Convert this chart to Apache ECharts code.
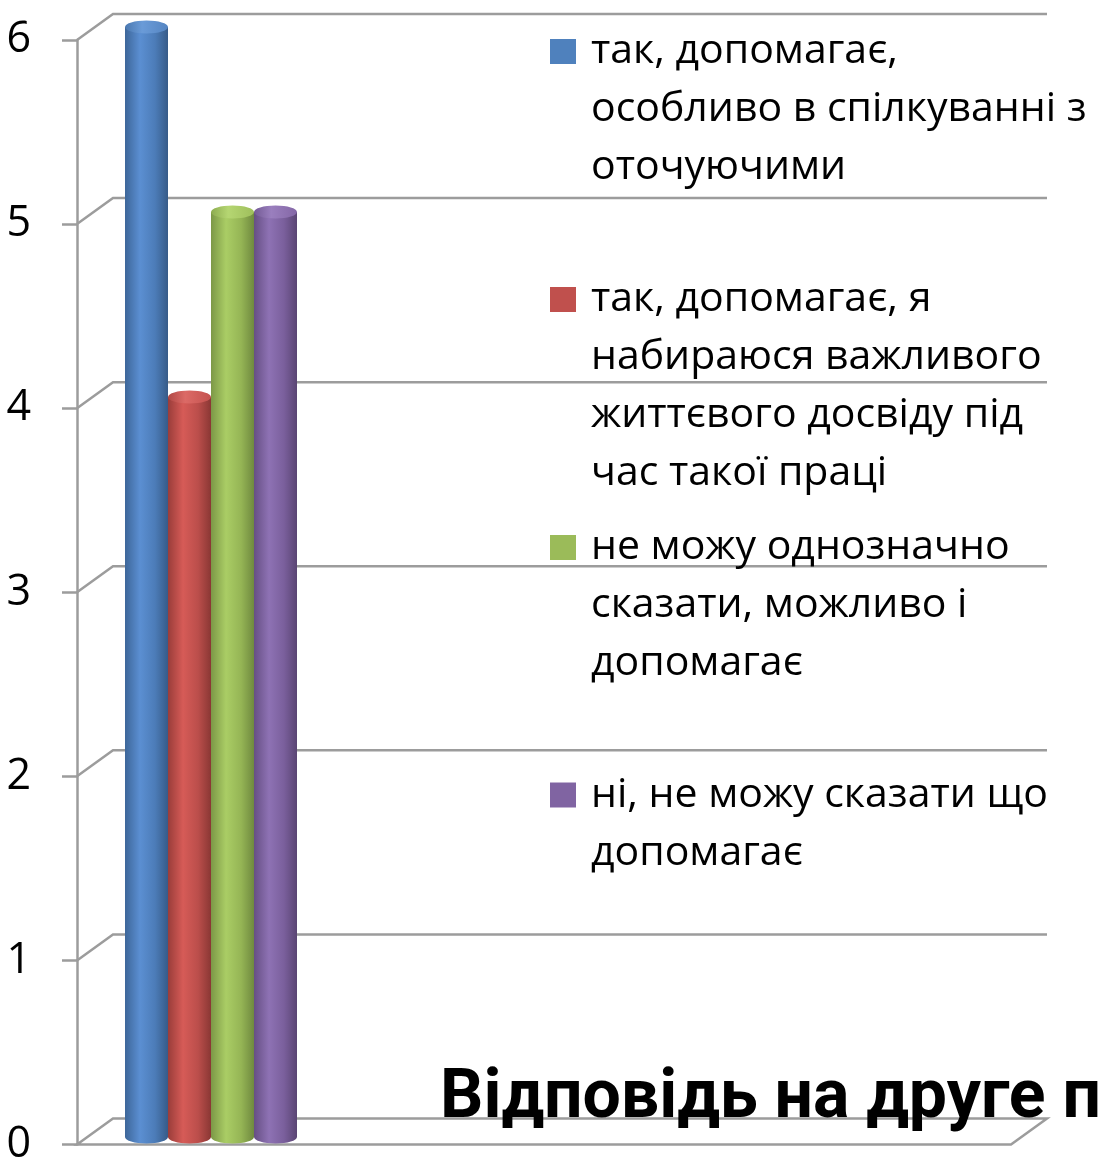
<!DOCTYPE html>
<html>
<head>
<meta charset="utf-8">
<script src="https://cdn.jsdelivr.net/npm/echarts@6/dist/echarts.min.js"></script>
<style>
  html, body { margin: 0; padding: 0; background: #fff; }
  #chart { width: 1098px; height: 1166px; }
</style>
</head>
<body>
<div id="chart"></div>
<script>
// ---- data ----
const categories = [''];
const seriesNames = [
  'так, допомагає, особливо в спілкуванні з оточуючими',
  'так, допомагає, я набираюся важливого життєвого досвіду під час такої праці',
  'не можу однозначно сказати, можливо і допомагає',
  'ні, не можу сказати що допомагає'
];
const legendLabels = [
  'так, допомагає,\nособливо в спілкуванні з\nоточуючими',
  'так, допомагає, я\nнабираюся важливого\nжиттєвого досвіду під\nчас такої праці',
  'не можу однозначно\nсказати, можливо і\nдопомагає',
  'ні, не можу сказати що\nдопомагає'
];
const seriesValues = [6, 4, 5, 5];
const yTicks = [0, 1, 2, 3, 4, 5, 6];
const titleText = 'Відповідь на друге питання';

// ---- styles ----
const FONT = 'Open Sans';
const baseColors = ['#4f81bd', '#c0504d', '#9bbb59', '#8064a2'];
const bodyStops = [
  ['#3d6699', '#5b8fd2', '#4c7cb8', '#375b88'],
  ['#9a3d3a', '#d65b57', '#bb4e4b', '#8a3734'],
  ['#7c9847', '#aacd65', '#95b555', '#6f893f'],
  ['#664f84', '#8e72b4', '#7a5f9c', '#5a4573']
];
const topStops = [
  ['#4a78b0', '#6a9bd8', '#5585c2'],
  ['#b04845', '#dc6a66', '#c4524f'],
  ['#8dac50', '#b5d672', '#9fbf5c'],
  ['#735a94', '#9a7fbe', '#8467a6']
];
const DX = 36, DY = -26;       // depth offset of back wall
const GRID_COLOR = '#9c9c9c';

function grad(stops) {
  const n = stops.length;
  return new echarts.graphic.LinearGradient(0, 0, 1, 0,
    stops.map((c, i) => ({ offset: n === 4 ? [0, 0.35, 0.7, 1][i] : [0, 0.4, 1][i], color: c })));
}

const chart = echarts.init(document.getElementById('chart'), null, { renderer: 'canvas' });

const gridSeries = {
  type: 'custom',
  xAxisIndex: 0, yAxisIndex: 0,
  silent: true,
  z: 1,
  data: yTicks.map(v => [0, v]),
  renderItem: function (params, api) {
    const cs = params.coordSys;
    const p = api.coord([api.value(0), api.value(1)]);
    const y = p[1];
    const x0 = cs.x, x1 = cs.x + cs.width;
    const style = { stroke: GRID_COLOR, lineWidth: 2.5, fill: null };
    if (api.value(1) === 0) {
      return {
        type: 'polygon',
        shape: { points: [[x0, y], [x0 + DX, y + DY], [x1 + DX, y + DY], [x1, y]] },
        style: style
      };
    }
    return {
      type: 'polyline',
      shape: { points: [[x0, y], [x0 + DX, y + DY], [x1 + DX, y + DY]] },
      style: style
    };
  }
};

const barSeries = seriesNames.map((name, idx) => ({
  type: 'custom',
  name: name,
  xAxisIndex: 1, yAxisIndex: 1,
  z: 5,
  itemStyle: { color: baseColors[idx] },
  data: [[0, seriesValues[idx]]],
  renderItem: function (params, api) {
    const cat = api.value(0);
    const v = api.value(1);
    const base = api.coord([cat, 0]);
    const top = api.coord([cat, v]);
    const band = api.size([1, 0])[0];
    const bw = band * 0.215;
    const cx = base[0] + (idx - 1.5) * bw;
    const ry = 6.5;
    return {
      type: 'group',
      children: [
        { type: 'ellipse', shape: { cx: cx, cy: base[1], rx: bw / 2, ry: ry },
          style: { fill: grad(bodyStops[idx]) } },
        { type: 'rect', shape: { x: cx - bw / 2, y: top[1], width: bw, height: base[1] - top[1] },
          style: { fill: grad(bodyStops[idx]) } },
        { type: 'ellipse', shape: { cx: cx, cy: top[1], rx: bw / 2, ry: ry },
          style: { fill: grad(topStops[idx]) } }
      ]
    };
  }
}));

const LH = 58;
const iconCenters = [51.5, 299.5, 547.5, 795];
const legends = seriesNames.map((name, i) => {
  const n = legendLabels[i].split('\n').length;
  // blank lines in front so that the first text line sits level with the icon
  const shifted = '\n'.repeat(n - 1) + legendLabels[i];
  return {
    show: true,
    orient: 'vertical',
    left: 550,
    top: iconCenters[i] - (2 * n - 1) * LH / 2,
    padding: 0,
    itemWidth: 26,
    itemHeight: 25,
    icon: 'rect',
    selectedMode: false,
    data: [name],
    formatter: function () { return shifted; },
    textStyle: {
      fontFamily: FONT, fontSize: 41, lineHeight: LH, color: '#000',
      padding: [0, 0, 0, 10]
    }
  };
});

const option = {
  backgroundColor: '#ffffff',
  animation: false,
  color: baseColors,
  title: {
    text: titleText,
    left: 440,
    top: 1066,
    padding: 0,
    textStyle: { fontFamily: 'Roboto', fontSize: 68, fontWeight: 'bold', color: '#000' }
  },
  legend: legends,
  grid: [
    { left: 77, right: 87, top: 40, bottom: 16, containLabel: false },
    { left: 111, width: 200, top: 27, bottom: 29, containLabel: false }
  ],
  xAxis: [
    { type: 'category', gridIndex: 0, data: categories, show: false },
    { type: 'category', gridIndex: 1, data: categories, show: false }
  ],
  yAxis: [
    {
      type: 'value', gridIndex: 0, min: 0, max: 6, interval: 1,
      axisLine: { show: true, lineStyle: { color: GRID_COLOR, width: 2.5 } },
      axisTick: { show: true, length: 15, lineStyle: { color: GRID_COLOR, width: 2.5 } },
      splitLine: { show: false },
      axisLabel: {
        margin: 46, fontFamily: FONT, fontSize: 43, color: '#000',
        formatter: function (v) { return yTicks.indexOf(v) >= 0 ? String(v) : ''; }
      }
    },
    { type: 'value', gridIndex: 1, min: 0, max: 6, interval: 1, show: false }
  ],
  series: [gridSeries].concat(barSeries)
};

chart.setOption(option);
</script>
</body>
</html>
